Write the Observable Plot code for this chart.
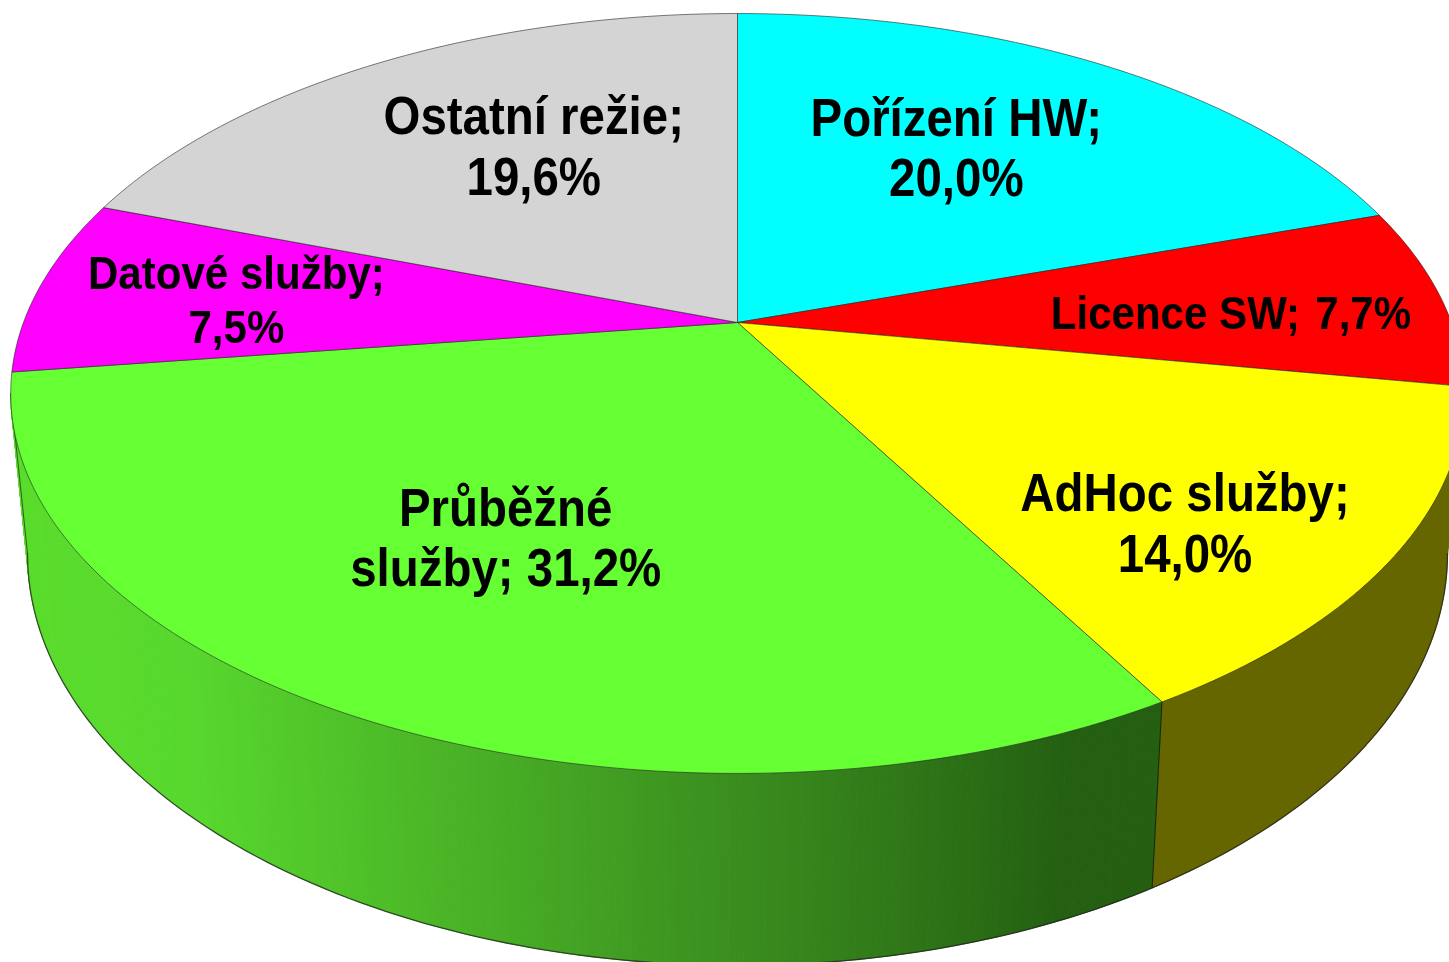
<!DOCTYPE html>
<html lang="cs">
<head>
<meta charset="utf-8">
<title>Koláčový graf</title>
<script src="https://cdn.jsdelivr.net/npm/d3@7"></script>
<script src="https://cdn.jsdelivr.net/npm/@observablehq/plot@0.6"></script>
<style>
html,body{margin:0;padding:0;background:#fff;overflow:hidden}
svg{display:block;filter:blur(0.4px)}
</style>
</head>
<body>
<div id="chart"></div>
<script>
const categories = ["Pořízení HW","Licence SW","AdHoc služby","Průběžné služby","Datové služby","Ostatní režie"];
const shares = [20.0,7.7,14.0,31.2,7.5,19.6];
const colors = ["#00ffff","#ff0000","#ffff00","#66ff33","#ff00ff","#d4d4d4"];
const labels = ["Pořízení HW;\n20,0%","Licence SW; \u200a7,7%","AdHoc služby;\n14,0%","Průběžné\nslužby; 31,2%","Datové služby;\n7,5%","Ostatní režie;\n19,6%"];
const labelSizes = [53,47,53,53,47,53];
const labelU = [0.3366,0.6948,0.5689,-0.2927,-0.7105,-0.3137];
const labelV = [-0.526,-0.0285,0.4945,0.5265,-0.066,-0.531];
const wallStops = [30,190,375,561,809,994,1056,1150];
const wallShades = ["#5adc2c","#58d82e","#4ebe28","#44a524","#36841c","#296a14","#256012","#255f12"];
const olive = "#666600";

// perspective view of the round pie: top rim and bottom rim
const W = 1449, H = 962, cx = 737, k = 0.1868;
const rimTop = {y0: 322, a: 366.7, b: 714};
const rimBottom = {y0: 476, a: 397.6, b: 697.5};
const project = (u, v, r) => [cx + r.b * u / (1 - k * v), r.y0 + r.a * v / (1 - k * v)];
const rim = (deg, r) => {
  const t = deg * Math.PI / 180;
  return project(Math.sin(t), -Math.cos(t), r);
};

// slice boundaries in degrees, clockwise from the top
const total = d3.sum(shares);
const ends = d3.cumsum(shares).map(s => s / total * 360);
const starts = [0, ...ends.slice(0, -1)];

// top faces
const faces = [];
categories.forEach((c, i) => {
  const pts = [[cx, rimTop.y0]];
  for (let d = starts[i]; d < ends[i]; d += 1) pts.push(rim(d, rimTop));
  pts.push(rim(ends[i], rimTop), [cx, rimTop.y0]);
  pts.forEach(([x, y]) => faces.push({id: c, x, y, fill: colors[i]}));
});

// side walls: the visible part runs between the two silhouette tangents
const tangent = Math.acos(-k) * 180 / Math.PI;
const shade = d3.scaleLinear().domain(wallStops).range(wallShades).clamp(true);
const strips = [];
const wallFrom = ends[2], wallTo = 360 - tangent, wallOliveFrom = tangent;
const step = 0.5;
for (let d = wallFrom, n = 0; d < wallTo; d += step, n++) {
  const d2 = Math.min(d + step, wallTo);
  const a = rim(d, rimTop), b = rim(d2, rimTop), c = rim(d2, rimBottom), e = rim(d, rimBottom);
  const col = shade((a[0] + b[0] + c[0] + e[0]) / 4);
  [a, b, c, e, a].forEach(([x, y]) => strips.push({id: "g" + n, x, y, shade: col}));
}
const oliveWall = [];
for (let d = wallOliveFrom; d <= wallFrom; d += 1) oliveWall.push(rim(d, rimTop));
oliveWall.push(rim(wallFrom, rimTop), rim(wallFrom, rimBottom));
for (let d = wallFrom; d >= wallOliveFrom; d -= 1) oliveWall.push(rim(d, rimBottom));
oliveWall.push(oliveWall[0]);

const bottomEdge = [...d3.range(wallOliveFrom, wallTo, 1), wallTo].map(d => rim(d, rimBottom));
const leftEdge = [rim(wallTo, rimTop), rim(wallTo, rimBottom)];
const wallJoint = [rim(wallFrom, rimTop), rim(wallFrom, rimBottom)];

const labelData = labels.map((t, i) => {
  const [x, y] = project(labelU[i], labelV[i], rimTop);
  return {t, x, y, size: labelSizes[i]};
});

const squeeze = 0.895;
const chart = Plot.plot({
  width: W, height: H,
  margin: 0,
  x: {domain: [0, W], range: [0, W], axis: null},
  y: {domain: [0, H], range: [0, H], axis: null},
  marks: [
    Plot.line(oliveWall, {x: d => d[0], y: d => d[1], fill: olive, stroke: olive, strokeWidth: 1}),
    Plot.line(strips, {x: "x", y: "y", z: "id", fill: "shade", stroke: "shade", strokeWidth: 1}),
    Plot.line(bottomEdge, {x: d => d[0], y: d => d[1], stroke: "#222", strokeWidth: 1.3, strokeOpacity: 0.75}),
    Plot.line(leftEdge, {x: d => d[0], y: d => d[1], stroke: "#222", strokeWidth: 1, strokeOpacity: 0.7}),
    Plot.line(wallJoint, {x: d => d[0], y: d => d[1], stroke: "#111", strokeWidth: 1, strokeOpacity: 0.7}),
    Plot.line(faces, {x: "x", y: "y", z: "id", fill: "fill", stroke: "#222", strokeWidth: 0.9, strokeOpacity: 0.65}),
    Plot.text(labelData, {
      x: "x", y: "y", text: "t", fontSize: "size",
      fontFamily: "Liberation Sans", fontWeight: "bold", fill: "black", lineHeight: 1.14,
      render: (i, s, v, d, c, next) => {
        const g = next(i, s, v, d, c);
        d3.select(g).selectAll("text").attr("transform", function () {
          return (this.getAttribute("transform") || "") + ` scale(${squeeze},1)`;
        });
        return g;
      }
    })
  ]
});
document.getElementById("chart").append(chart);
</script>
</body>
</html>
